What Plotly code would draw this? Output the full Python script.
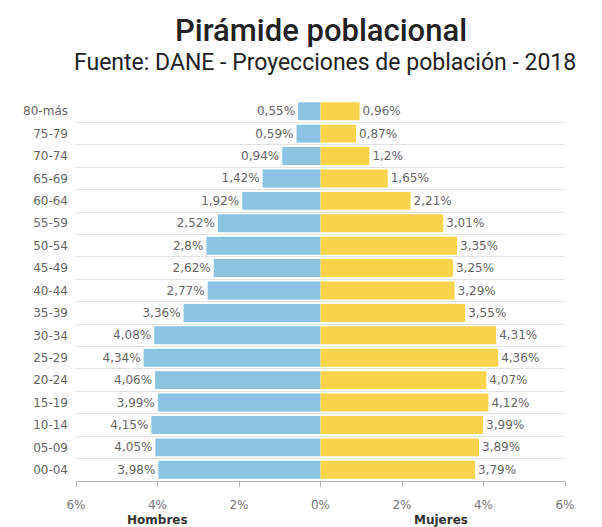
import plotly.graph_objects as go

grupos = ["80-más", "75-79", "70-74", "65-69", "60-64", "55-59", "50-54", "45-49",
          "40-44", "35-39", "30-34", "25-29", "20-24", "15-19", "10-14", "05-09", "00-04"]
hombres = [0.55, 0.59, 0.94, 1.42, 1.92, 2.52, 2.8, 2.62, 2.77, 3.36, 4.08, 4.34,
           4.06, 3.99, 4.15, 4.05, 3.98]
mujeres = [0.96, 0.87, 1.2, 1.65, 2.21, 3.01, 3.35, 3.25, 3.29, 3.55, 4.31, 4.36,
           4.07, 4.12, 3.99, 3.89, 3.79]
tick_vals = [-6, -4, -2, 0, 2, 4, 6]
tick_text = ["6%", "4%", "2%", "0%", "2%", "4%", "6%"]


def fmt(v):
    return ("%g" % v).replace(".", ",") + "%"


FONT = "DejaVu Sans, Verdana, sans-serif"
label_font = dict(family=FONT, size=12, color="#666666")

fig = go.Figure()
fig.add_trace(go.Bar(
    y=grupos, x=[-v for v in hombres], orientation="h", name="Hombres",
    marker=dict(color="#8cc3e3", line=dict(width=0)),
    text=[fmt(v) for v in hombres], textposition="outside",
    textfont=label_font, cliponaxis=False, hoverinfo="skip"))
fig.add_trace(go.Bar(
    y=grupos, x=mujeres, orientation="h", name="Mujeres",
    marker=dict(color="#f9d34c", line=dict(width=0)),
    text=[fmt(v) for v in mujeres], textposition="outside",
    textfont=label_font, cliponaxis=False, hoverinfo="skip"))

fig.update_layout(
    width=602, height=527,
    margin=dict(l=68, r=45, t=92, b=54, autoexpand=False),
    paper_bgcolor="white", plot_bgcolor="white",
    barmode="relative", bargap=0.2,
    showlegend=False,
    xaxis=dict(range=[-6, 6], tickvals=tick_vals, ticktext=tick_text,
               showgrid=False, zeroline=False,
               showline=True, linecolor="#bbbbbb", linewidth=1,
               ticks="outside", ticklen=5, tickcolor="#bbbbbb",
               tickfont=dict(family=FONT, size=12, color="#777777"),
               ticklabelstandoff=8),
    yaxis=dict(type="category", categoryorder="array", categoryarray=grupos[::-1],
               tickson="boundaries", showgrid=True, gridcolor="#e2e2e2", gridwidth=1,
               ticks="", ticklen=0, showline=False, zeroline=False,
               tickfont=dict(family=FONT, size=12, color="#666666"),
               ticklabelstandoff=7),
)

fig.add_annotation(text="Pirámide poblacional", xref="paper", yref="paper",
                   x=0.502, y=1.0, yshift=70, xanchor="center", yanchor="middle",
                   showarrow=False,
                   font=dict(family="Roboto, sans-serif", size=31, color="#222222", weight=500))
fig.add_annotation(text="Fuente: DANE - Proyecciones de población - 2018", xref="paper", yref="paper",
                   x=0.51, y=1.0, yshift=38, xanchor="center", yanchor="middle",
                   showarrow=False,
                   font=dict(family="Roboto, sans-serif", size=23, color="#222222"))
fig.add_annotation(text="<b>Hombres</b>", xref="x", yref="paper", x=-4, y=0, yshift=-39,
                   xanchor="center", yanchor="middle", showarrow=False,
                   font=dict(family=FONT, size=12, color="#333333"))
fig.add_annotation(text="<b>Mujeres</b>", xref="x", yref="paper", x=2.95, y=0, yshift=-39,
                   xanchor="center", yanchor="middle", showarrow=False,
                   font=dict(family=FONT, size=12, color="#333333"))

fig.write_html("out.html")
